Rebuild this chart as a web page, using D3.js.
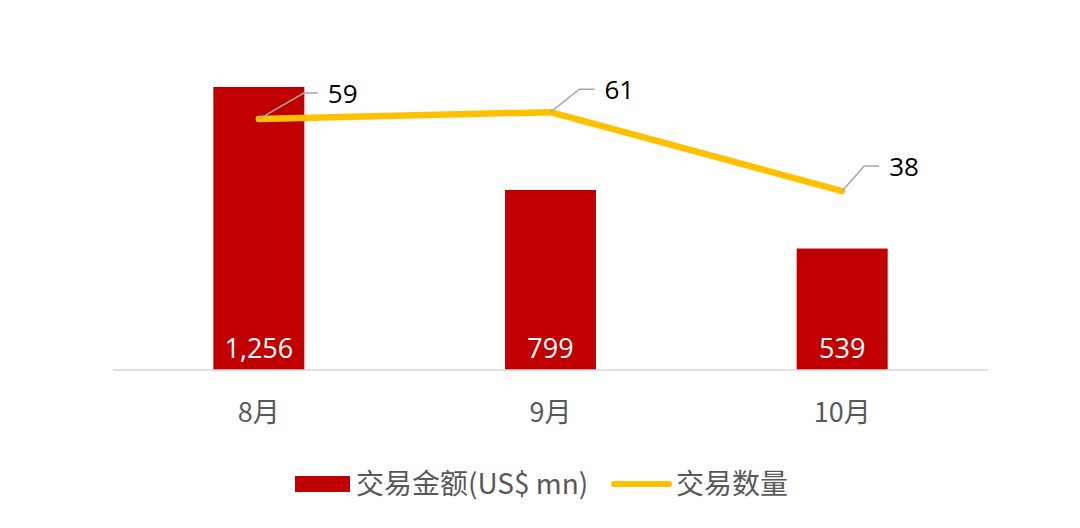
<!DOCTYPE html>
<html>
<head>
<meta charset="utf-8">
<script src="https://cdn.jsdelivr.net/npm/d3@7"></script>
<style>
  body { margin: 0; background: #fff; }
  text { font-family: "Open Sans", "Noto Sans CJK SC", sans-serif; }
</style>
</head>
<body>
<svg width="1080" height="528"></svg>
<script>
// Chart data.
var months = ["8月", "9月", "10月"];
var amounts = [1256, 799, 539];     // 交易金额(US$ mn)
var counts = [59, 61, 38];          // 交易数量
var amountLabels = ["1,256", "799", "539"];
var legendNames = ["交易金额(US$ mn)", "交易数量"];

var svg = d3.select("svg");

var x = d3.scaleBand().domain(months).range([113, 988]).paddingInner(0).paddingOuter(0);
var y = d3.scaleLinear().domain([0, 1400]).range([370, 54.5]);
// secondary axis for the line (not drawn)
var y2 = d3.scaleLinear().domain([0, 70]).range([321.4, 81.3]);

var barW = 91;

// bars
svg.append("g").selectAll("rect")
    .data(amounts)
    .join("rect")
    .attr("x", function(d, i) { return x(months[i]) + x.bandwidth() / 2 - barW / 2; })
    .attr("y", function(d) { return y(d); })
    .attr("width", barW)
    .attr("height", function(d) { return y(0) - y(d); })
    .attr("fill", "#C00000");

// baseline
svg.append("line")
    .attr("x1", 113).attr("x2", 988)
    .attr("y1", y(0)).attr("y2", y(0))
    .attr("stroke", "#d9d9d9").attr("stroke-width", 1.5);

// bar value labels
svg.append("g").selectAll("text")
    .data(amountLabels)
    .join("text")
    .attr("x", function(d, i) { return x(months[i]) + x.bandwidth() / 2; })
    .attr("y", y(0) - 12)
    .attr("text-anchor", "middle")
    .attr("fill", "#fff")
    .attr("font-size", 27)
    .text(function(d) { return d; });

// category labels
var xAxis = svg.append("g")
    .attr("transform", "translate(0," + y(0) + ")")
    .call(d3.axisBottom(x).tickSize(0).tickPadding(33));
xAxis.select(".domain").remove();
xAxis.selectAll("text")
    .attr("font-size", 27)
    .attr("fill", "#595959")
    .style("font-family", "\"Noto Sans CJK SC\", sans-serif");

// line
var cx = function(i) { return x(months[i]) + x.bandwidth() / 2; };
var line = d3.line()
    .x(function(d, i) { return cx(i); })
    .y(function(d) { return y2(d); });

svg.append("path")
    .datum(counts)
    .attr("d", line)
    .attr("fill", "none")
    .attr("stroke", "#FFC000")
    .attr("stroke-width", 6.5)
    .attr("stroke-linejoin", "round")
    .attr("stroke-linecap", "round");

// leader lines + labels for the line points
var leaderDx = [45, 29, 22];
var leaderDy = [-26, -23, -25];
var leaderTail = [14, 15, 15];

var labels = svg.append("g").selectAll("g")
    .data(counts)
    .join("g");

labels.append("polyline")
    .attr("points", function(d, i) {
        var px = cx(i), py = y2(d);
        var ex = px + leaderDx[i], ey = py + leaderDy[i];
        return [[px, py], [ex, ey], [ex + leaderTail[i], ey]].join(" ");
    })
    .attr("fill", "none")
    .attr("stroke", "#a6a6a6")
    .attr("stroke-width", 1.5);

labels.append("text")
    .attr("x", function(d, i) { return cx(i) + leaderDx[i] + leaderTail[i] + 10; })
    .attr("y", function(d, i) { return y2(d) + leaderDy[i] + 10; })
    .attr("font-size", 26)
    .attr("fill", "#000")
    .text(function(d) { return d; });

// legend
var legend = svg.append("g");
legend.append("rect")
    .attr("x", 295).attr("y", 476).attr("width", 55).attr("height", 16)
    .attr("fill", "#C00000");
legend.append("text")
    .attr("x", 356).attr("y", 494)
    .attr("font-size", 28).attr("fill", "#595959")
    .style("font-family", "\"Noto Sans CJK SC\", sans-serif")
    .text(legendNames[0]);
legend.append("line")
    .attr("x1", 614).attr("x2", 669).attr("y1", 484).attr("y2", 484)
    .attr("stroke", "#FFC000").attr("stroke-width", 6)
    .attr("stroke-linecap", "round");
legend.append("text")
    .attr("x", 676).attr("y", 494)
    .attr("font-size", 28).attr("fill", "#595959")
    .style("font-family", "\"Noto Sans CJK SC\", sans-serif")
    .text(legendNames[1]);
</script>
</body>
</html>
